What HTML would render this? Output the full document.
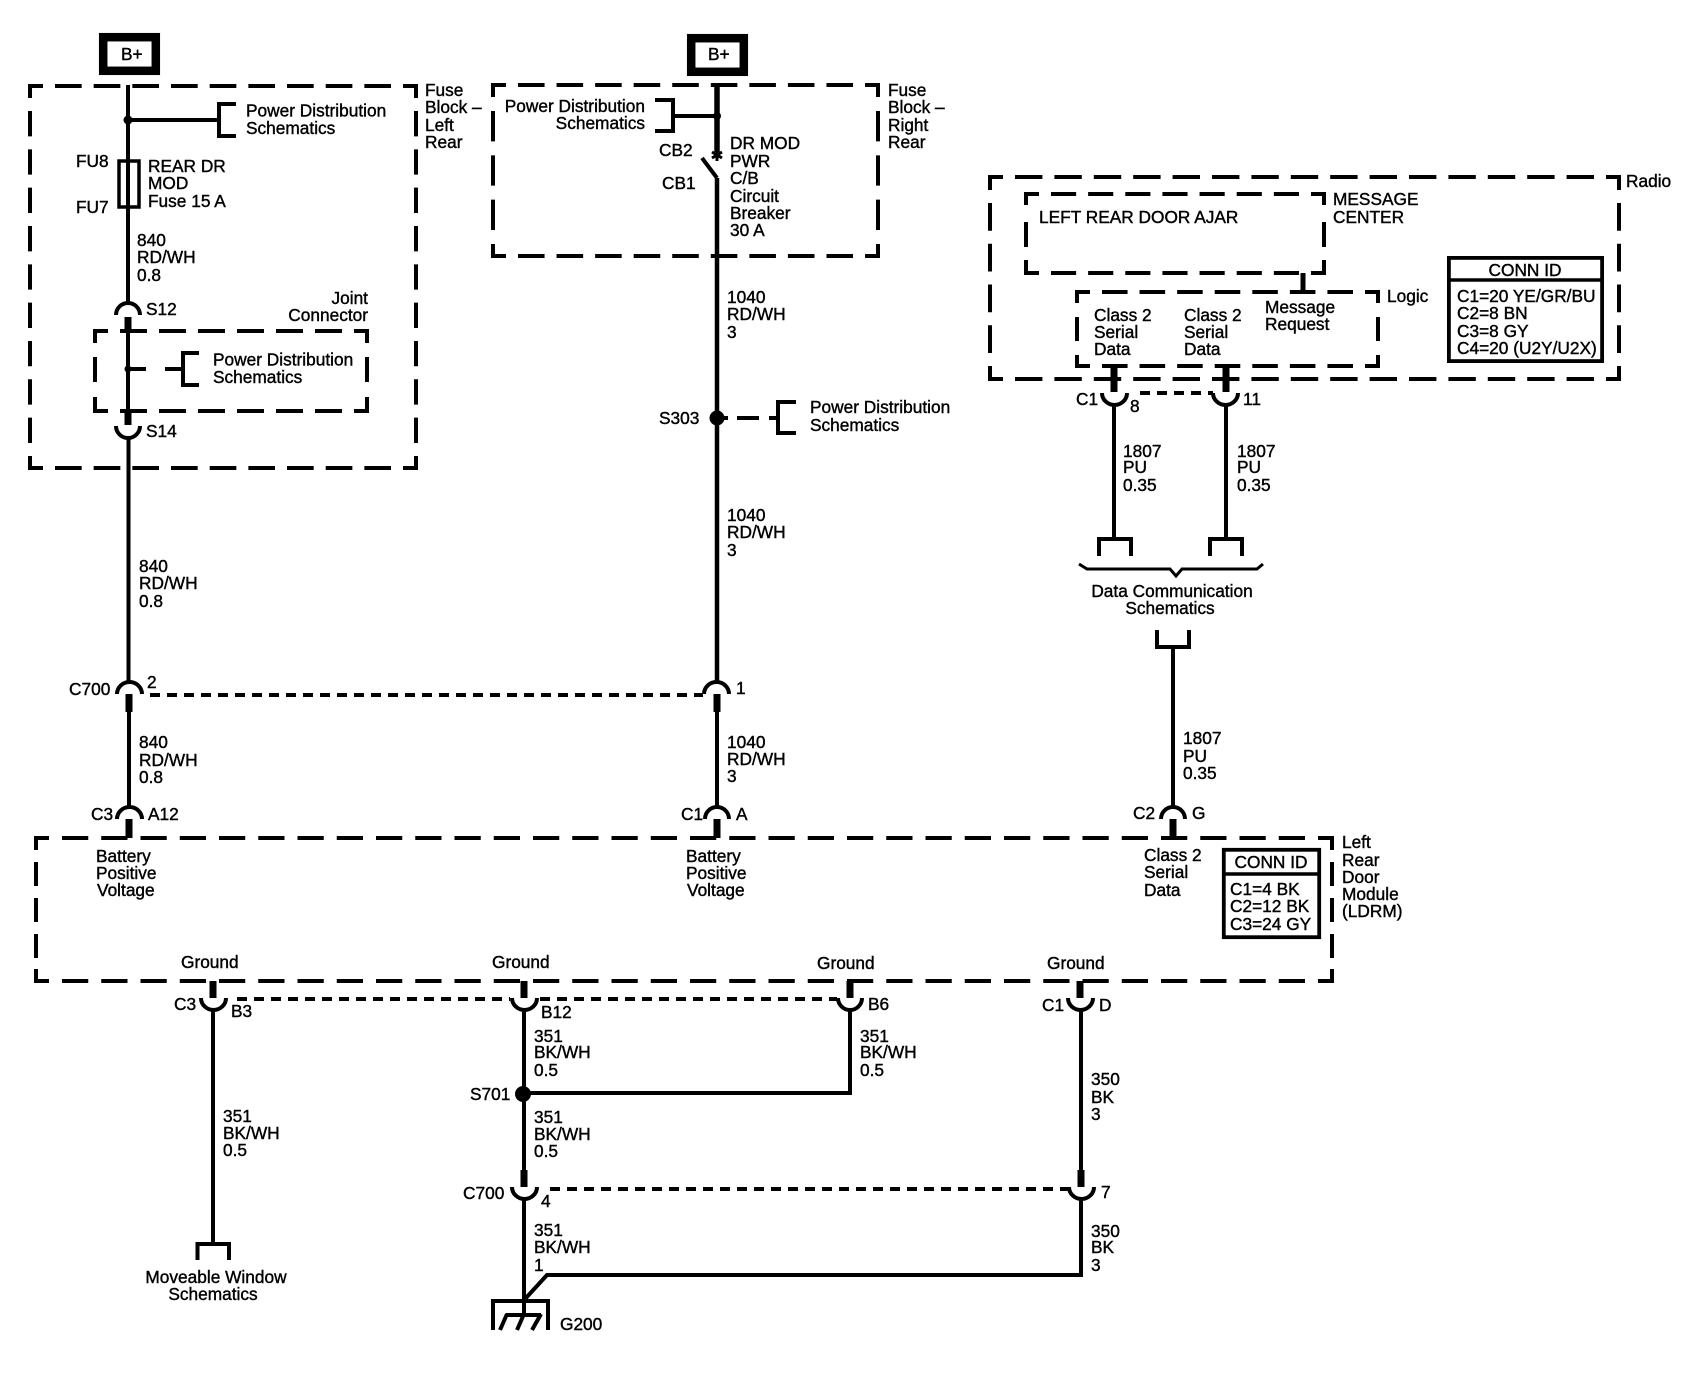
<!DOCTYPE html>
<html>
<head>
<meta charset="utf-8">
<style>
html,body{margin:0;padding:0;background:#fff;}
svg{display:block;}
text{font-family:"Liberation Sans",Arial,sans-serif;font-size:17.3px;fill:#000;stroke:#000;stroke-width:.4px;}
.w{stroke:#000;fill:none;stroke-width:4;}
.k{stroke:#000;fill:none;stroke-width:7;}
.a{stroke:#000;fill:none;stroke-width:4;}
.d{stroke:#000;fill:none;stroke-width:4;}
.s{stroke:#000;fill:none;stroke-width:4;stroke-dasharray:10 7;}
.m{text-anchor:middle;}
.e{text-anchor:end;}
</style>
</head>
<body>
<svg width="1700" height="1392" viewBox="0 0 1700 1392" xmlns="http://www.w3.org/2000/svg">
<rect width="1700" height="1392" fill="#fff"/>

<!-- B+ boxes -->
<rect x="103.2" y="37.2" width="52.6" height="33.6" fill="none" stroke="#000" stroke-width="8.5"/>
<text x="121" y="60">B+</text>
<rect x="691.2" y="38.2" width="52.6" height="33.6" fill="none" stroke="#000" stroke-width="8.5"/>
<text x="708" y="60">B+</text>

<!-- Fuse block left rear -->
<line class="d" x1="28" y1="86" x2="418" y2="86" stroke-dasharray="26.67 12" stroke-dashoffset="11.67"/>
<line class="d" x1="28" y1="468" x2="418" y2="468" stroke-dasharray="26.67 12" stroke-dashoffset="11.67"/>
<line class="d" x1="30" y1="84" x2="30" y2="470" stroke-dasharray="25.33 13" stroke-dashoffset="11.33"/>
<line class="d" x1="416" y1="84" x2="416" y2="470" stroke-dasharray="25.33 13" stroke-dashoffset="11.33"/>
<text x="425" y="96">Fuse</text><text x="425" y="113">Block –</text><text x="425" y="131">Left</text><text x="425" y="148">Rear</text>

<!-- Joint connector -->
<line class="d" x1="93" y1="331" x2="369" y2="331" stroke-dasharray="27 12" stroke-dashoffset="12"/>
<line class="d" x1="93" y1="411" x2="369" y2="411" stroke-dasharray="27 12" stroke-dashoffset="12"/>
<line class="d" x1="95" y1="329" x2="95" y2="413" stroke-dasharray="14 14 25 15 16 100"/>
<line class="d" x1="367" y1="329" x2="367" y2="413" stroke-dasharray="14 14 25 15 16 100"/>
<text class="e" x="368" y="304">Joint</text><text class="e" x="368" y="321">Connector</text>

<!-- Wire 1 -->
<line class="w" x1="128" y1="85" x2="128" y2="305"/>
<circle cx="128" cy="120" r="4.5"/>
<line class="w" x1="128" y1="120" x2="219" y2="120"/>
<path class="w" d="M236 104H219V136H236"/>
<text x="246" y="116.500">Power Distribution</text><text x="246" y="134">Schematics</text>
<rect x="119" y="161" width="20" height="46" fill="none" stroke="#000" stroke-width="3.5"/>
<text x="76" y="167">FU8</text><text x="76" y="213">FU7</text>
<text x="148" y="172">REAR DR</text><text x="148" y="189">MOD</text><text x="148" y="207">Fuse 15 A</text>
<text x="137" y="246">840</text><text x="137" y="263">RD/WH</text><text x="137" y="281">0.8</text>
<path class="a" d="M116 315A12 12 0 0 1 140 315"/>
<text x="146" y="315">S12</text>
<line class="k" x1="128" y1="317" x2="128" y2="333"/>
<line class="w" x1="128" y1="333" x2="128" y2="411"/>
<circle cx="128" cy="369" r="3.5"/>
<line class="w" x1="128" y1="369" x2="146" y2="369"/>
<line class="w" x1="165" y1="369" x2="183" y2="369"/>
<path class="w" d="M199 353H183V385H199"/>
<text x="213" y="365.500">Power Distribution</text><text x="213" y="383">Schematics</text>
<line class="k" x1="128" y1="410" x2="128" y2="425"/>
<path class="a" d="M116 426A12 12 0 0 0 140 426"/>
<text x="146" y="437">S14</text>
<line class="w" x1="128.500" y1="437" x2="128.500" y2="684"/>
<text x="139" y="572">840</text><text x="139" y="589">RD/WH</text><text x="139" y="607">0.8</text>

<!-- Fuse block right rear -->
<line class="d" x1="491" y1="85" x2="880" y2="85" stroke-dasharray="26.56 12" stroke-dashoffset="11.56"/>
<line class="d" x1="491" y1="256" x2="880" y2="256" stroke-dasharray="26.56 12" stroke-dashoffset="11.56"/>
<line class="d" x1="493" y1="83" x2="493" y2="258" stroke-dasharray="30.33 14" stroke-dashoffset="16.33"/>
<line class="d" x1="878" y1="83" x2="878" y2="258" stroke-dasharray="30.33 14" stroke-dashoffset="16.33"/>
<text x="888" y="96">Fuse</text><text x="888" y="113">Block –</text><text x="888" y="131">Right</text><text x="888" y="148">Rear</text>

<!-- Wire 2 -->
<line stroke="#000" stroke-width="5.500" x1="717" y1="85" x2="717" y2="152"/>
<circle cx="717" cy="116" r="4"/>
<line class="w" x1="673" y1="116" x2="717" y2="116"/>
<path class="w" d="M655 100H673V131H655"/>
<text class="e" x="645" y="112">Power Distribution</text><text class="e" x="645" y="129">Schematics</text>
<path stroke="#000" stroke-width="3" d="M717 149V161M712 152L722 158M722 152L712 158"/>
<line class="w" x1="702" y1="158" x2="717" y2="178"/>
<text x="659" y="156">CB2</text><text x="662" y="189">CB1</text>
<text x="730" y="149">DR MOD</text><text x="730" y="167">PWR</text><text x="730" y="184">C/B</text><text x="730" y="202">Circuit</text><text x="730" y="219">Breaker</text><text x="730" y="236">30 A</text>
<line stroke="#000" stroke-width="4.500" x1="717" y1="178" x2="717" y2="684"/>
<text x="727" y="303">1040</text><text x="727" y="320">RD/WH</text><text x="727" y="338">3</text>
<circle cx="717" cy="418" r="7.500"/>
<line class="w" x1="717" y1="418" x2="728" y2="418"/>
<line class="w" x1="737" y1="418" x2="759" y2="418"/>
<line class="w" x1="769" y1="418" x2="778" y2="418"/>
<path class="w" d="M796 402H778V433H796"/>
<text x="659" y="424">S303</text>
<text x="810" y="413">Power Distribution</text><text x="810" y="431">Schematics</text>
<text x="727" y="521">1040</text><text x="727" y="538">RD/WH</text><text x="727" y="556">3</text>

<!-- C700 upper -->
<path class="a" d="M117 694A12.500 12 0 0 1 142 694"/>
<line class="k" x1="129" y1="694" x2="129" y2="712"/>
<line class="w" x1="129" y1="712" x2="129" y2="808"/>
<text x="69" y="695">C700</text><text x="147" y="688">2</text>
<line class="s" x1="150" y1="695" x2="703" y2="695"/>
<path class="a" d="M704 694A12.500 12 0 0 1 729 694"/>
<line class="k" x1="717" y1="694" x2="717" y2="712"/>
<line class="w" x1="717" y1="712" x2="717" y2="808"/>
<text x="736" y="694">1</text>
<text x="139" y="748">840</text><text x="139" y="766">RD/WH</text><text x="139" y="783">0.8</text>
<text x="727" y="748">1040</text><text x="727" y="765">RD/WH</text><text x="727" y="782">3</text>

<!-- LDRM -->
<line class="d" x1="34" y1="838" x2="1334" y2="838" stroke-dasharray="26.25 13" stroke-dashoffset="11.25"/>
<line class="d" x1="34" y1="981" x2="1334" y2="981" stroke-dasharray="26.25 13" stroke-dashoffset="11.25"/>
<line class="d" x1="36" y1="836" x2="36" y2="983" stroke-dasharray="14 12 24 12 24 12 24 11 15 100"/>
<line class="d" x1="1332" y1="836" x2="1332" y2="983" stroke-dasharray="14 12 24 12 24 12 24 11 15 100"/>
<text x="1342" y="848">Left</text><text x="1342" y="866">Rear</text><text x="1342" y="883">Door</text><text x="1342" y="900">Module</text><text x="1342" y="917">(LDRM)</text>

<path class="a" d="M117 819A12.500 12 0 0 1 142 819"/>
<line class="k" x1="129" y1="819" x2="129" y2="838"/>
<text x="91" y="820">C3</text><text x="148" y="820">A12</text>
<path class="a" d="M705 819A12 12 0 0 1 729 819"/>
<line class="k" x1="717" y1="819" x2="717" y2="838"/>
<text x="681" y="820">C1</text><text x="736" y="820">A</text>
<path class="a" d="M1161 819A12 12 0 0 1 1185 819"/>
<line class="k" x1="1173" y1="819" x2="1173" y2="838"/>
<text x="1133" y="819">C2</text><text x="1192" y="819">G</text>

<text x="96" y="862">Battery</text><text x="96" y="879">Positive</text><text x="97" y="896">Voltage</text>
<text x="686" y="862">Battery</text><text x="686" y="879">Positive</text><text x="687" y="896">Voltage</text>
<text x="1144" y="861">Class 2</text><text x="1144" y="878">Serial</text><text x="1144" y="896">Data</text>

<rect x="1223.800" y="849.800" width="95.400" height="87.400" fill="none" stroke="#000" stroke-width="3.800"/>
<line stroke="#000" stroke-width="3.500" x1="1222" y1="874" x2="1321" y2="874"/>
<text class="m" x="1271" y="868">CONN ID</text>
<text x="1230" y="895">C1=4 BK</text><text x="1230" y="912">C2=12 BK</text><text x="1230" y="930">C3=24 GY</text>

<text x="181" y="968">Ground</text><text x="492" y="968">Ground</text><text x="817" y="969">Ground</text><text x="1047" y="969">Ground</text>

<!-- Lower connectors -->
<line class="k" x1="213" y1="981" x2="213" y2="998"/>
<path class="a" d="M201 998A12.500 12 0 0 0 226 998"/>
<text x="174" y="1010">C3</text><text x="231" y="1017">B3</text>
<line class="s" x1="237" y1="999" x2="510" y2="999"/>
<line class="k" x1="524" y1="981" x2="524" y2="998"/>
<path class="a" d="M512 998A12.500 12 0 0 0 537 998"/>
<text x="541" y="1018">B12</text>
<line class="s" x1="540" y1="999" x2="837" y2="999"/>
<line class="k" x1="850" y1="981" x2="850" y2="998"/>
<path class="a" d="M838 998A12 12 0 0 0 862 998"/>
<text x="868" y="1010">B6</text>
<line class="k" x1="1080" y1="981" x2="1080" y2="998"/>
<path class="a" d="M1068 998A12.500 12 0 0 0 1093 998"/>
<text x="1042" y="1011">C1</text><text x="1099" y="1011">D</text>

<line class="w" x1="213" y1="1010" x2="213" y2="1243"/>
<path class="w" d="M197.500 1260V1244H229V1260"/>
<text x="223" y="1122">351</text><text x="223" y="1139">BK/WH</text><text x="223" y="1156">0.5</text>
<text class="m" x="216" y="1283">Moveable Window</text><text class="m" x="213" y="1300">Schematics</text>

<line class="w" x1="524" y1="1010" x2="524" y2="1171"/>
<text x="534" y="1042">351</text><text x="534" y="1058">BK/WH</text><text x="534" y="1076">0.5</text>
<circle cx="523" cy="1094" r="8"/>
<text x="470" y="1100">S701</text>
<path class="w" d="M524 1093H850V1010"/>
<text x="860" y="1042">351</text><text x="860" y="1058">BK/WH</text><text x="860" y="1076">0.5</text>
<text x="534" y="1123">351</text><text x="534" y="1140">BK/WH</text><text x="534" y="1157">0.5</text>
<line class="k" x1="524" y1="1170" x2="524" y2="1187"/>
<path class="a" d="M512 1187A12.500 12 0 0 0 537 1187"/>
<text x="463" y="1199">C700</text><text x="541" y="1207">4</text>
<line class="s" x1="550" y1="1189" x2="1068" y2="1189"/>
<line class="w" x1="524" y1="1198" x2="524" y2="1314"/>
<text x="534" y="1236">351</text><text x="534" y="1253">BK/WH</text><text x="534" y="1271">1</text>

<line class="w" x1="1081" y1="1010" x2="1081" y2="1171"/>
<text x="1091" y="1085">350</text><text x="1091" y="1103">BK</text><text x="1091" y="1120">3</text>
<line class="k" x1="1081" y1="1170" x2="1081" y2="1187"/>
<path class="a" d="M1069 1187A12.500 12 0 0 0 1094 1187"/>
<text x="1101" y="1198">7</text>
<path class="w" d="M1081 1198V1275H547L525 1299"/>
<text x="1091" y="1237">350</text><text x="1091" y="1253">BK</text><text x="1091" y="1271">3</text>

<!-- G200 -->
<path class="w" d="M493 1330V1301H548V1330"/>
<line class="w" x1="506" y1="1315" x2="541" y2="1315"/>
<path class="w" d="M507 1314L500 1330M524 1314L517 1330M541 1314L532 1330"/>
<text x="560" y="1330">G200</text>

<!-- Radio -->
<line class="d" x1="988" y1="177" x2="1621" y2="177" stroke-dasharray="27.4 12" stroke-dashoffset="12.4"/>
<line class="d" x1="988" y1="379" x2="1621" y2="379" stroke-dasharray="27.4 12" stroke-dashoffset="12.4"/>
<line class="d" x1="990" y1="175" x2="990" y2="381" stroke-dasharray="27.75 13" stroke-dashoffset="12.75"/>
<line class="d" x1="1619" y1="175" x2="1619" y2="381" stroke-dasharray="27.75 13" stroke-dashoffset="12.75"/>
<text x="1626" y="187">Radio</text>

<!-- Message center -->
<line class="d" x1="1024" y1="194" x2="1326" y2="194" stroke-dasharray="25.14 12" stroke-dashoffset="10.14"/>
<line class="d" x1="1024" y1="273" x2="1326" y2="273" stroke-dasharray="25.14 12" stroke-dashoffset="10.14"/>
<line class="d" x1="1026" y1="192" x2="1026" y2="275" stroke-dasharray="13 17 25 13 15 100"/>
<line class="d" x1="1324" y1="192" x2="1324" y2="275" stroke-dasharray="13 17 25 13 15 100"/>
<text x="1039" y="223">LEFT REAR DOOR AJAR</text>
<text x="1333" y="205">MESSAGE</text><text x="1333" y="223">CENTER</text>
<line stroke="#000" stroke-width="5" x1="1303" y1="273" x2="1303" y2="292"/>

<!-- Logic -->
<line class="d" x1="1075" y1="292" x2="1380" y2="292" stroke-dasharray="25.57 12" stroke-dashoffset="10.57"/>
<line class="d" x1="1075" y1="366" x2="1380" y2="366" stroke-dasharray="25.57 12" stroke-dashoffset="10.57"/>
<line class="d" x1="1077" y1="290" x2="1077" y2="368" stroke-dasharray="13 14 24 14 13 100"/>
<line class="d" x1="1378" y1="290" x2="1378" y2="368" stroke-dasharray="13 14 24 14 13 100"/>
<text x="1387" y="302">Logic</text>
<text x="1094" y="321">Class 2</text><text x="1094" y="338">Serial</text><text x="1094" y="355">Data</text>
<text x="1184" y="321">Class 2</text><text x="1184" y="338">Serial</text><text x="1184" y="355">Data</text>
<text x="1265" y="313">Message</text><text x="1265" y="330">Request</text>

<!-- Radio CONN ID -->
<rect x="1448.900" y="257.900" width="153.200" height="103.200" fill="none" stroke="#000" stroke-width="3.800"/>
<line stroke="#000" stroke-width="3.500" x1="1447" y1="280" x2="1604" y2="280"/>
<text class="m" x="1525" y="276">CONN ID</text>
<text x="1457" y="302">C1=20 YE/GR/BU</text><text x="1457" y="319">C2=8 BN</text><text x="1457" y="337">C3=8 GY</text><text x="1457" y="354">C4=20 (U2Y/U2X)</text>

<!-- Class 2 wires -->
<line class="k" x1="1114" y1="366" x2="1114" y2="392"/>
<line class="k" x1="1226" y1="366" x2="1226" y2="392"/>
<path class="a" d="M1102 393A12.500 12 0 0 0 1127 393"/>
<path class="a" d="M1213 393A12.500 12 0 0 0 1238 393"/>
<line class="s" x1="1140" y1="393" x2="1213" y2="393"/>
<line class="w" x1="1114" y1="404" x2="1114" y2="538"/>
<line class="w" x1="1226" y1="404" x2="1226" y2="538"/>
<text x="1076" y="405">C1</text><text x="1130" y="412">8</text><text x="1243" y="405">11</text>
<text x="1123" y="457">1807</text><text x="1123" y="473">PU</text><text x="1123" y="491">0.35</text>
<text x="1237" y="457">1807</text><text x="1237" y="473">PU</text><text x="1237" y="491">0.35</text>
<path class="w" d="M1099 556V539H1131V556"/>
<path class="w" d="M1210 556V539H1242V556"/>
<path stroke="#000" fill="none" stroke-width="3" d="M1079 564L1087 569H1170L1176 576L1182 569H1257L1263 564"/>
<text class="m" x="1172" y="597">Data Communication</text><text class="m" x="1170" y="614">Schematics</text>
<path class="w" d="M1157 630V647H1189V630"/>
<line class="w" x1="1173" y1="647" x2="1173" y2="808"/>
<text x="1183" y="744">1807</text><text x="1183" y="762">PU</text><text x="1183" y="779">0.35</text>
</svg>
</body>
</html>
